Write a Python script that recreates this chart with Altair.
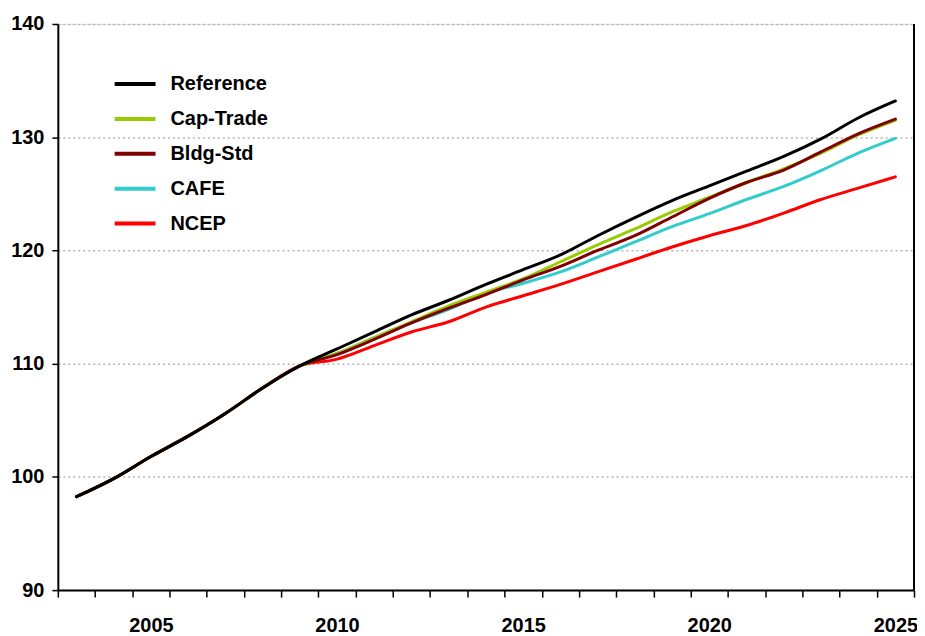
import altair as alt
import pandas as pd

years = list(range(2003, 2026))

common = [98.25, 99.85, 101.8, 103.6, 105.6, 107.85, 109.8]
reference = common + [111.3, 112.8, 114.3, 115.6, 117.0, 118.3, 119.6, 121.3, 122.9,
                      124.4, 125.7, 127.0, 128.3, 129.85, 131.7, 133.2]
cap_trade = common + [110.9, 112.3, 113.7, 115.1, 116.3, 117.5, 119.0, 120.5, 121.9,
                      123.4, 124.7, 126.0, 127.2, 128.6, 130.2, 131.5]
bldg_std = common + [110.8, 112.15, 113.6, 114.9, 116.1, 117.4, 118.6, 120.0, 121.3,
                     122.95, 124.6, 126.0, 127.1, 128.7, 130.3, 131.6]
cafe = common + [110.9, 112.3, 113.6, 114.8, 116.2, 117.1, 118.1, 119.4, 120.75,
                 122.1, 123.25, 124.5, 125.65, 127.05, 128.6, 129.9]
ncep = common + [110.4, 111.6, 112.8, 113.7, 115.0, 116.0, 117.0, 118.1, 119.2,
                 120.3, 121.3, 122.2, 123.3, 124.5, 125.5, 126.5]

series_names = ["Reference", "Cap-Trade", "Bldg-Std", "CAFE", "NCEP"]
series_colors = ["#000000", "#99cc00", "#800000", "#33cccc", "#ff0000"]
draw_order = ["NCEP", "CAFE", "Cap-Trade", "Bldg-Std", "Reference"]

y_ticks = [90, 100, 110, 120, 130, 140]
x_label_years = [2005, 2010, 2015, 2020, 2025]
x_band_edges = [y - 0.5 for y in years] + [years[-1] + 0.5]

rows = []
for name, vals in zip(series_names, [reference, cap_trade, bldg_std, cafe, ncep]):
    for yr, v in zip(years, vals):
        rows.append({"year": yr, "value": v, "series": name})
df = pd.DataFrame(rows)

W, H = 859, 568
FONT = "Liberation Sans"

x_enc = alt.X(
    "year:Q",
    scale=alt.Scale(domain=[x_band_edges[0], x_band_edges[-1]], nice=False, zero=False),
    axis=alt.Axis(
        values=x_band_edges + x_label_years,
        labelExpr="datum.value % 5 == 0 ? format(datum.value, 'd') : ''",
        tickOpacity={"condition": {"test": "datum.value % 1 == 0", "value": 0}, "value": 1},
        title=None,
        grid=False,
        tickSize=7,
        tickWidth=1.5,
        tickColor="#000000",
        domainColor="#000000",
        domainWidth=2,
        labelFont=FONT,
        labelFontSize=20,
        labelFontWeight="bold",
        labelColor="#000000",
        labelPadding=19,
        labelOverlap=False,
        labelFlush=False,
        labelBound=False,
    ),
)

y_enc = alt.Y(
    "value:Q",
    scale=alt.Scale(domain=[y_ticks[0], y_ticks[-1]], nice=False, zero=False),
    axis=alt.Axis(
        values=y_ticks,
        title=None,
        grid=True,
        gridColor="#b4b4b4",
        gridDash=[2, 3],
        gridWidth=1.5,
        tickSize=6,
        tickWidth=1.5,
        tickColor="#000000",
        domainColor="#000000",
        domainWidth=2,
        labelFont=FONT,
        labelFontSize=20,
        labelFontWeight="bold",
        labelColor="#000000",
        labelPadding=8,
        format="d",
    ),
)

color_enc = alt.Color(
    "series:N",
    scale=alt.Scale(domain=series_names, range=series_colors),
    legend=alt.Legend(
        orient="none",
        legendX=55,
        legendY=43,
        title=None,
        symbolType="stroke",
        symbolSize=1681,
        symbolStrokeWidth=4,
        labelFont=FONT,
        labelFontSize=20,
        labelFontWeight="bold",
        labelColor="#000000",
        labelOffset=13,
        clipHeight=34.5,
        rowPadding=0,
        padding=0,
    ),
)

layers = []
for name in draw_order:
    layers.append(
        alt.Chart(df)
        .transform_filter(alt.datum.series == name)
        .mark_line(strokeWidth=3, interpolate="monotone", strokeCap="round")
        .encode(x=x_enc, y=y_enc, color=color_enc)
    )

border = alt.Chart(df).mark_rule(color="#000000", strokeWidth=1.5).encode(
    x=alt.value(W), y=alt.value(0), y2=alt.value(H)
)

chart = (
    alt.layer(*layers, border)
    .properties(
        width=W,
        height=H,
        autosize=alt.AutoSizeParams(type="none"),
        padding={"left": 50, "top": 15, "right": 3, "bottom": 45},
    )
    .configure_view(stroke=None)
    .configure(background="#ffffff")
)

chart.save("out.html", embed_options={"renderer": "svg", "actions": False})
